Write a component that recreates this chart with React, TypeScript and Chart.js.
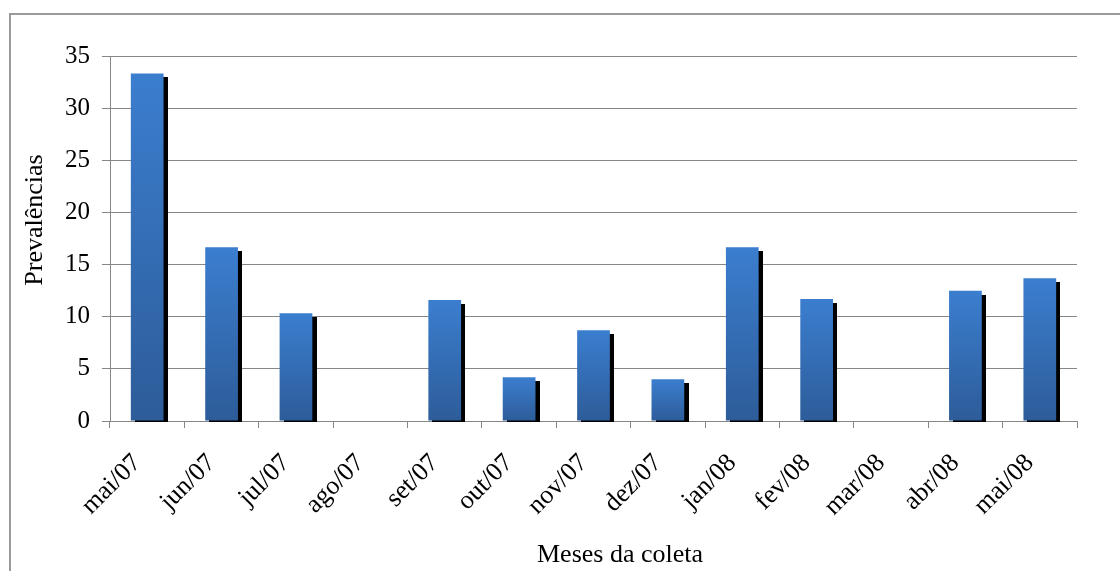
import React, { useEffect, useRef } from "react";
import { Chart, registerables } from "chart.js";

Chart.register(...registerables);

// Collection months and the prevalence (%) observed in each
const months = [
  "mai/07", "jun/07", "jul/07", "ago/07", "set/07", "out/07", "nov/07",
  "dez/07", "jan/08", "fev/08", "mar/08", "abr/08", "mai/08",
];
const prevalences = [33.33, 16.67, 10.34, 0, 11.6, 4.2, 8.7, 4.0, 16.67, 11.7, 0, 12.5, 13.7];

const yTitle = "Prevalências";
const xTitle = "Meses da coleta";

const FONT = "'Liberation Serif', 'Times New Roman', serif";
const GRID = "#868686";
const BAR_TOP = "#3b7ecf";
const BAR_BOTTOM = "#2d5c99";

// Black drop shadow behind each bar, offset right and down
const shadowPlugin = {
  id: "barShadow",
  beforeDatasetsDraw(chart: any) {
    const ctx = chart.ctx;
    const meta = chart.getDatasetMeta(0);
    const base = chart.scales.y.getPixelForValue(0);
    ctx.save();
    ctx.fillStyle = "#000";
    meta.data.forEach((bar: any) => {
      const { x, y, width } = bar.getProps(["x", "y", "width"], true);
      if (base - y < 1) return;
      const off = 4;
      ctx.fillRect(Math.round(x - width / 2 + off), Math.round(y + off), Math.round(width), Math.round(base - y - off + 1));
    });
    ctx.restore();
  },
};

// Outer frame and axis titles
const framePlugin = {
  id: "frameAndTitles",
  beforeDraw(chart: any) {
    const ctx = chart.ctx;
    ctx.save();
    ctx.fillStyle = "#fff";
    ctx.fillRect(0, 0, chart.width, chart.height);
    ctx.strokeStyle = "#9a9a9a";
    ctx.lineWidth = 2;
    ctx.beginPath();
    ctx.moveTo(10, chart.height + 2);
    ctx.lineTo(10, 14);
    ctx.lineTo(chart.width + 2, 14);
    ctx.stroke();
    ctx.restore();
  },
  afterDraw(chart: any) {
    const ctx = chart.ctx;
    ctx.save();
    ctx.fillStyle = "#000";
    ctx.font = `26px ${FONT}`;
    ctx.textAlign = "center";
    ctx.textBaseline = "alphabetic";
    ctx.fillText(xTitle, 620, 562);
    ctx.translate(42, 220);
    ctx.rotate(-Math.PI / 2);
    ctx.fillText(yTitle, 0, 0);
    ctx.restore();
  },
};

export default function App() {
  const ref = useRef<HTMLCanvasElement | null>(null);

  useEffect(() => {
    if (!ref.current) return;
    const chart = new Chart(ref.current, {
      type: "bar",
      data: {
        labels: months,
        datasets: [
          {
            data: prevalences,
            backgroundColor: (c: any) => {
              const ch = c.chart;
              if (c.type !== "data" || !ch.chartArea) return BAR_TOP;
              const yTop = ch.scales.y.getPixelForValue(c.raw);
              const yBase = ch.scales.y.getPixelForValue(0);
              if (!isFinite(yTop) || yBase - yTop < 1) return BAR_TOP;
              const g = ch.ctx.createLinearGradient(0, yTop, 0, yBase);
              g.addColorStop(0, BAR_TOP);
              g.addColorStop(1, BAR_BOTTOM);
              return g;
            },
            borderWidth: 0,
            categoryPercentage: 1,
            barPercentage: 0.44,
          },
        ],
      },
      options: {
        responsive: false,
        animation: false,
        devicePixelRatio: 1,
        layout: { padding: { top: 56, right: 43, left: 0, bottom: 0 } },
        plugins: { legend: { display: false }, tooltip: { enabled: false } },
        scales: {
          x: {
            afterFit: (s: any) => { s.height = 150; },
            grid: {
              offset: true,
              drawOnChartArea: false,
              drawTicks: true,
              tickLength: 7,
              color: GRID,
            },
            border: { color: GRID, width: 1 },
            ticks: {
              minRotation: 45,
              maxRotation: 45,
              autoSkip: false,
              padding: 20,
              labelOffset: -10,
              color: "#000",
              font: { family: FONT, size: 26 },
            },
          },
          y: {
            min: 0,
            max: 35,
            afterFit: (s: any) => { s.width = 110; },
            grid: { color: GRID, tickLength: 8, drawTicks: true },
            border: { color: GRID, width: 1 },
            ticks: {
              stepSize: 5,
              padding: 12,
              color: "#000",
              font: { family: FONT, size: 25 },
            },
          },
        },
      },
      plugins: [shadowPlugin, framePlugin],
    });
    return () => chart.destroy();
  }, []);

  return (
    <div style={{ position: "absolute", left: 0, top: 0, width: 1120, height: 571 }}>
      <canvas ref={ref} width={1120} height={571} style={{ display: "block" }} />
    </div>
  );
}
